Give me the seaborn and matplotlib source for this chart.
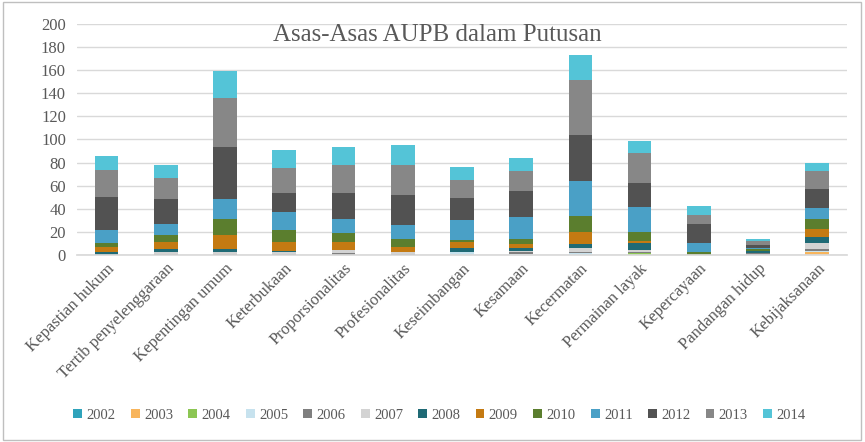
#!/usr/bin/env python3
# Asas-Asas AUPB dalam Putusan - stacked bars per year

import numpy as np
import matplotlib
matplotlib.use('Agg')
import matplotlib.pyplot as plt
import seaborn as sns

categories = ['Kepastian hukum', 'Tertib penyelenggaraan', 'Kepentingan umum',
              'Keterbukaan', 'Proporsionalitas', 'Profesionalitas',
              'Keseimbangan', 'Kesamaan', 'Kecermatan', 'Permainan layak',
              'Kepercayaan', 'Pandangan hidup', 'Kebijaksanaan']

years = ['2002', '2003', '2004', '2005', '2006', '2007', '2008',
         '2009', '2010', '2011', '2012', '2013', '2014']

y2002 = [0, 0, 0, 0, 0, 0, 0, 0, 0, 0, 0, 0, 0]
y2003 = [0, 0, 0, 0, 0, 0, 0, 0, 0, 0, 0, 0, 2.5]
y2004 = [0, 0, 0, 0, 0, 0, 0, 0, 0, 2, 0, 0, 0]
y2005 = [0, 0, 0, 0, 0, 0, 3, 0.8, 1.5, 0, 0, 0, 1.2]
y2006 = [0, 1, 1, 1, 2, 1, 0, 2, 1.2, 1, 0, 2, 1.3]
y2007 = [0, 1.5, 1.5, 2, 2.4, 1.5, 0, 1, 3, 1.5, 0, 0, 5]
y2008 = [3, 3, 3, 0.5, 0, 0.5, 3, 2, 4, 5.5, 0, 1.8, 5.5]
y2009 = [4, 6, 12, 8, 7, 4, 5, 4, 10, 2, 0, 0, 7]
y2010 = [3, 6, 14, 10, 8, 7, 2, 4.5, 14, 8, 2.5, 1.2, 9]
y2011 = [12, 9, 17, 15.5, 12, 12, 17, 19, 30, 21.5, 8, 1.5, 9]
y2012 = [28, 22, 45, 16.5, 22, 26, 19, 22.5, 40.5, 21, 16.7, 2.5, 16.5]
y2013 = [24, 18, 42, 21.5, 24.5, 25.5, 15.5, 17, 47, 26, 7.8, 3, 16]
y2014 = [12, 11, 24, 16, 16, 18, 12, 11.5, 21.5, 10, 7, 2, 6.3]

series = [y2002, y2003, y2004, y2005, y2006, y2007, y2008,
          y2009, y2010, y2011, y2012, y2013, y2014]

colors = ['#2FA3BB', '#F8B55C', '#8CC653', '#C7E2EE', '#7F7F7F', '#D3D3D3',
          '#1F6A75', '#C47A12', '#5B7E2E', '#4AA0C6', '#525252', '#878787',
          '#54C4D7']

sns.set_theme(style='white')
plt.rcParams['font.family'] = ['Liberation Serif', 'DejaVu Serif']
text_color = '#595959'

fig = plt.figure(figsize=(8.65, 4.42), dpi=100)
ax = fig.add_axes([0.089, 0.423, 0.890, 0.523])

bottom = np.zeros(len(categories))
for yr, vals, c in zip(years, series, colors):
    sns.barplot(x=categories, y=vals, bottom=bottom, color=c, width=0.4,
                ax=ax, label=yr, saturation=1, linewidth=0)
    bottom = bottom + np.array(vals)

if ax.get_legend() is not None:
    ax.get_legend().remove()

ax.set_ylim(0, 200)
ax.set_yticks(range(0, 201, 20))
ax.yaxis.grid(True, color='#D9D9D9', linewidth=1)
ax.set_axisbelow(True)
for s in ['top', 'right', 'left']:
    ax.spines[s].set_visible(False)
ax.spines['bottom'].set_color('#D9D9D9')
ax.tick_params(axis='y', labelsize=12, colors=text_color, length=0, pad=8)
ax.tick_params(axis='x', labelsize=12, colors=text_color, length=0, pad=4)
plt.setp(ax.get_xticklabels(), rotation=45, ha='right', rotation_mode='anchor')

fig.text(0.506, 0.92, 'Asas-Asas AUPB dalam Putusan', fontsize=18,
         color=text_color, ha='center', va='center')

handles, labels = ax.get_legend_handles_labels()
fig.legend(handles, labels, loc='center', bbox_to_anchor=(0.508, 0.06), ncol=13,
           frameon=False, fontsize=10.5, handlelength=0.6, handleheight=0.6,
           handletextpad=0.3, columnspacing=1.05, labelcolor=text_color)

# light frame like the original
fig.patches.append(plt.Rectangle((0.003, 0.005), 0.992, 0.99, transform=fig.transFigure,
                                 fill=False, edgecolor='#BFBFBF', linewidth=1))

plt.savefig('out.png', dpi=100)
